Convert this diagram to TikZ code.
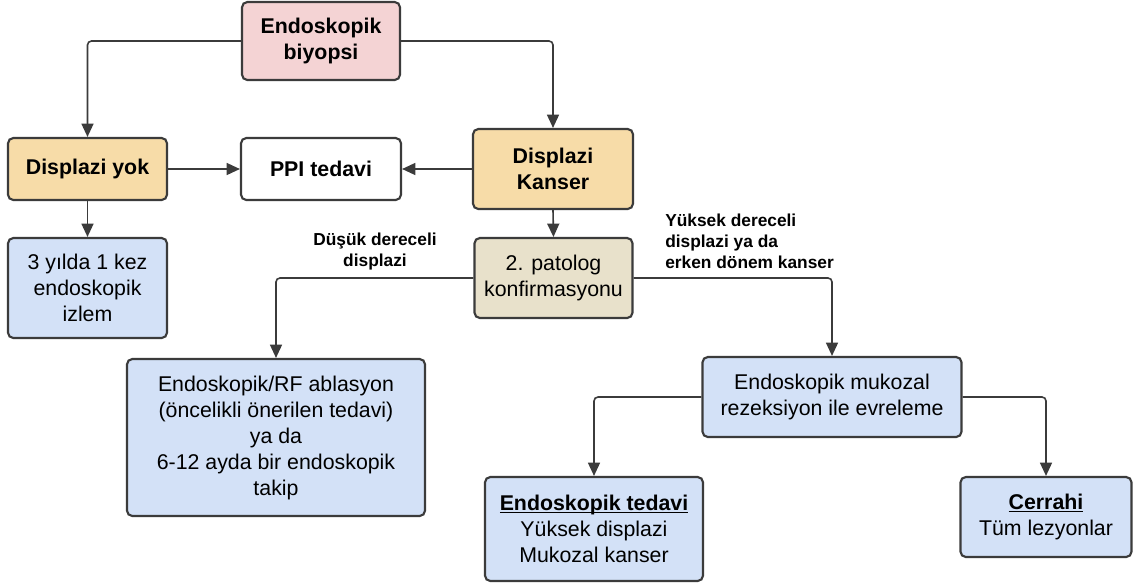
\documentclass[tikz,border=0pt]{standalone}
\usepackage{fontspec}
\setmainfont{Liberation Sans}
\usetikzlibrary{arrows.meta}

\definecolor{linec}{HTML}{3B3B3B}
\definecolor{pinkfill}{HTML}{F4D3D4}
\definecolor{orangefill}{HTML}{F7DCA8}
\definecolor{beigefill}{HTML}{E8E1CB}
\definecolor{bluefill}{HTML}{D3E1F7}

\newcommand{\boxtitle}[1]{\textbf{\underline{\smash{#1}}\vphantom{#1}}}

\tikzset{
  box/.style={draw=linec, line width=1.6pt, rounded corners=4pt, align=center, inner sep=2pt,
    font=\fontsize{16}{19.5}\selectfont},
  headbox/.style={box, font=\bfseries\fontsize{16}{19.5}\selectfont},
  conn/.style={draw=linec, line width=1.2pt, rounded corners=3pt, -{Triangle[length=10pt,width=9pt]}},
  lbl/.style={inner sep=0pt, font=\bfseries\fontsize{13}{15.75}\selectfont}
}

\begin{document}
\begin{tikzpicture}[x=0.75pt,y=-0.75pt]
  \path[use as bounding box, fill=white] (0,0) rectangle (1134,586);

  % first level
  \node[headbox, fill=pinkfill, minimum width=118.5pt, minimum height=58.5pt] (biyopsi) at (321,41) {Endoskopik\\biyopsi};
  \node[headbox, fill=orangefill, minimum width=119.25pt, minimum height=46.5pt] (yok) at (87.5,169) {Displazi yok};
  \node[headbox, fill=white, minimum width=120pt, minimum height=46.5pt] (ppi) at (321,169) {PPI tedavi};
  \node[headbox, fill=orangefill, minimum width=120pt, minimum height=60pt] (kanser) at (553,169) {Displazi\\Kanser};

  % second level
  \node[box, fill=bluefill, minimum width=119.25pt, minimum height=75pt] (izlem) at (87.5,288) {3 yılda 1 kez\\endoskopik\\izlem};
  \node[box, fill=beigefill, minimum width=118.5pt, minimum height=60pt] (patolog) at (553.5,278) {2. patolog\\konfirmasyonu};
  \node[box, fill=bluefill, minimum width=223.5pt, minimum height=117.75pt] (ablasyon) at (276,437.5)
    {Endoskopik/RF ablasyon\\(öncelikli önerilen tedavi)\\ya da\\6-12 ayda bir endoskopik\\takip};
  \node[box, fill=bluefill, minimum width=194.25pt, minimum height=60pt] (emr) at (832,397) {Endoskopik mukozal\\rezeksiyon ile evreleme};
  \node[box, fill=bluefill, minimum width=163.5pt, minimum height=78pt] (tedavi) at (594,529)
    {\boxtitle{Endoskopik tedavi}\\Yüksek displazi\\Mukozal kanser};
  \node[box, fill=bluefill, minimum width=128.25pt, minimum height=60pt] (cerrahi) at (1046,517)
    {\boxtitle{Cerrahi}\\Tüm lezyonlar};

  % labels
  \node[lbl, align=center] (dusuk) at (375,252) {Düşük dereceli\\displazi};
  \node[lbl, align=left, anchor=west] (yuksek) at (665,241) {Yüksek dereceli\\displazi ya da\\erken dönem kanser};

  % connectors
  \draw[conn] (biyopsi.west) -| (yok.north);
  \draw[conn] (biyopsi.east) -| (kanser.north);
  \draw[conn] (yok.east) -- (ppi.west);
  \draw[conn] (kanser.west) -- (ppi.east);
  \draw[conn] (yok.south) -- (izlem.north);
  \draw[conn] (kanser.south) -- (patolog.north);
  \draw[conn] (patolog.west) -| (ablasyon.north);
  \draw[conn] (patolog.east) -| (emr.north);
  \draw[conn] (emr.west) -| (tedavi.north);
  \draw[conn] (emr.east) -| (cerrahi.north);
\end{tikzpicture}
\end{document}
